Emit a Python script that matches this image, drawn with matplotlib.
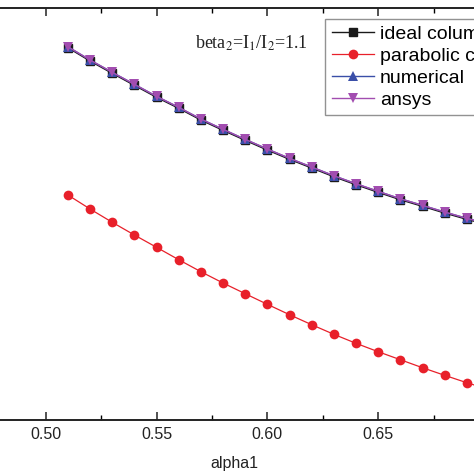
import matplotlib
matplotlib.use("Agg")
import matplotlib.pyplot as plt
from matplotlib.ticker import MultipleLocator

# ---- data (y in arbitrary units) ----
alpha1 = [0.51, 0.52, 0.53, 0.54, 0.55, 0.56, 0.57, 0.58, 0.59, 0.60,
          0.61, 0.62, 0.63, 0.64, 0.65, 0.66, 0.67, 0.68, 0.69, 0.70]
ideal_column = [3.723, 3.590, 3.467, 3.347, 3.227, 3.117, 3.000, 2.897, 2.797, 2.700,
                2.607, 2.520, 2.433, 2.353, 2.277, 2.203, 2.137, 2.070, 2.007, 1.950]
parabolic_curve = [2.250, 2.110, 1.977, 1.850, 1.727, 1.603, 1.483, 1.370, 1.263, 1.157,
                   1.053, 0.953, 0.857, 0.767, 0.683, 0.603, 0.523, 0.447, 0.373, 0.305]
numerical = [3.733, 3.600, 3.477, 3.357, 3.237, 3.127, 3.010, 2.907, 2.807, 2.710,
             2.617, 2.530, 2.443, 2.363, 2.287, 2.213, 2.147, 2.080, 2.017, 1.960]
ansys = [3.733, 3.600, 3.477, 3.357, 3.237, 3.127, 3.010, 2.907, 2.807, 2.710,
         2.617, 2.530, 2.443, 2.363, 2.287, 2.213, 2.147, 2.080, 2.017, 1.960]
series_labels = ["ideal column", "parabolic curve", "numerical", "ansys"]
xticks = [0.50, 0.55, 0.60, 0.65]

plt.rcParams['font.family'] = ['Liberation Sans', 'DejaVu Sans']
plt.rcParams['mathtext.fontset'] = 'stix'

fig = plt.figure(figsize=(4.74, 4.74), dpi=100)
ax = fig.add_axes([-0.0435, 0.1139, 1.0751, 0.869])

ax.plot(alpha1, ideal_column, color='#1a1a1a', lw=1.0, marker='s', ms=6,
        label=series_labels[0])
ax.plot(alpha1, parabolic_curve, color='#e8202a', lw=0.9, marker='o', ms=7,
        label=series_labels[1], markeredgewidth=0)
ax.plot(alpha1, numerical, color='#3a4fa8', lw=1.0, marker='^', ms=7.5,
        label=series_labels[2], markeredgewidth=0)
ax.plot(alpha1, ansys, color='#a24db0', lw=1.0, marker='v', ms=7.5,
        label=series_labels[3], markeredgewidth=0)

ax.set_xlim(0.47, 0.70)
ax.set_ylim(0.0, 4.12)
ax.set_xticks(xticks)
ax.set_xticklabels([f"{v:.2f}" for v in xticks])
ax.xaxis.set_minor_locator(MultipleLocator(0.025))
ax.tick_params(axis='x', which='major', direction='in', length=6, width=1.1,
               top=True, labelsize=11.5, pad=5, colors='#222222')
ax.tick_params(axis='x', which='minor', direction='in', length=3.5, width=1.0,
               top=True)
ax.tick_params(axis='y', which='both', left=False, right=False, labelleft=False)
for s in ax.spines.values():
    s.set_linewidth(1.4)
    s.set_color('#222222')

ax.set_xlabel("alpha1", fontsize=11.5, labelpad=10, color='#222222')

ax.text(0.5928, 3.77, r"beta$_2$=I$_1$/I$_2$=1.1", family='Liberation Serif',
        fontsize=13, ha='center', va='center', color='#222222')

leg = ax.legend(loc='upper left', bbox_to_anchor=(324.7 / 474, 1 - 18.5 / 474),
                bbox_transform=fig.transFigure, fontsize=14, frameon=True,
                fancybox=False, borderaxespad=0, borderpad=0.35,
                handlelength=2.2, handletextpad=0.3, labelspacing=0.22)
leg.get_frame().set_edgecolor('#777777')
leg.get_frame().set_linewidth(1.0)

fig.savefig("out.png", dpi=100)
